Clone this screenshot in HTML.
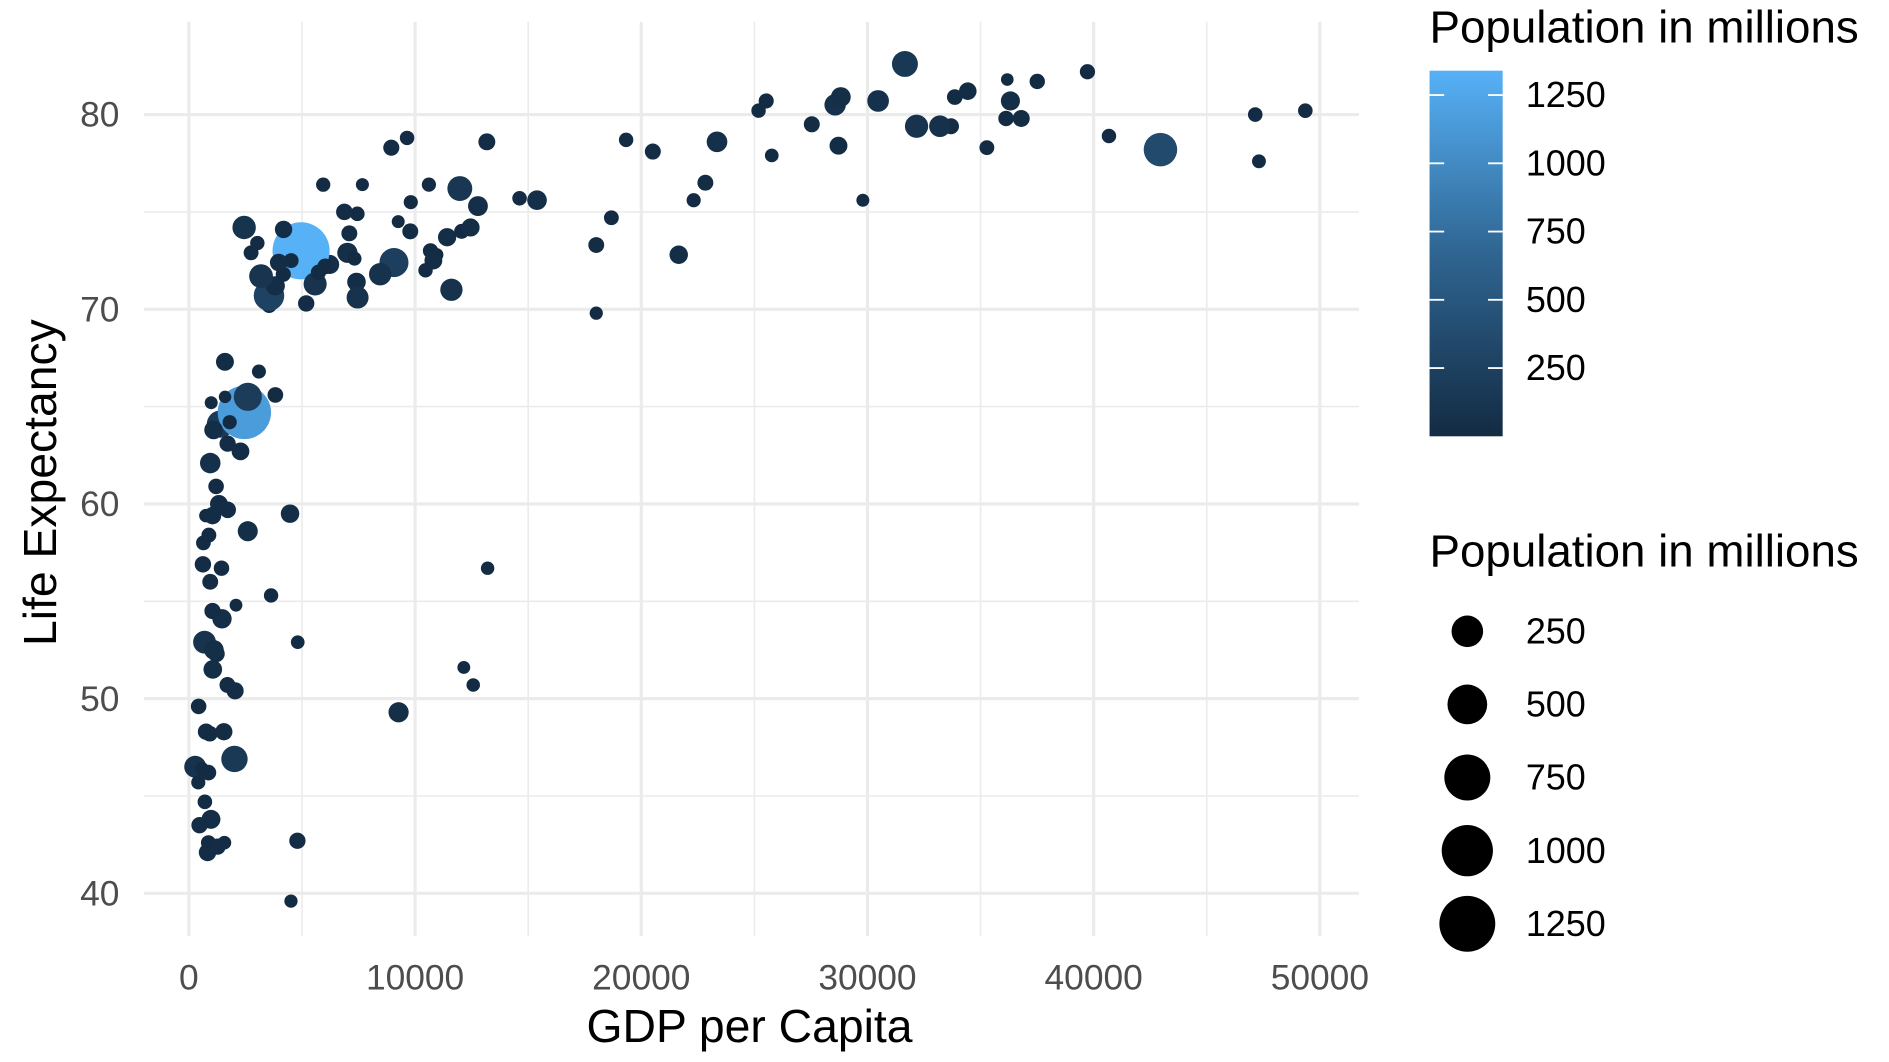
<!DOCTYPE html>
<html><head><meta charset="utf-8"><style>
html,body{margin:0;padding:0;background:#fff;}
svg{display:block;}
text{font-family:"Liberation Sans",sans-serif;}
</style></head><body>
<svg id="chart" width="1889" height="1062" viewBox="0 0 1550 871.4" preserveAspectRatio="none" xmlns="http://www.w3.org/2000/svg">
<defs><linearGradient id="cbar" x1="0" y1="1" x2="0" y2="0">
<stop offset="0" stop-color="#132B43"/><stop offset="0.5" stop-color="#2F6591"/><stop offset="1" stop-color="#56B1F7"/></linearGradient></defs>
<g id="grid"></g>
<g id="points"></g>
<g id="axes"></g>
<text x="615" y="855" font-size="38" text-anchor="middle" fill="#000">GDP per Capita</text>
<text transform="translate(46,396) rotate(-90)" font-size="38" text-anchor="middle" fill="#000">Life Expectancy</text>
<g>
<text x="1173" y="35" font-size="37.5">Population in millions</text>
<rect x="1173" y="58" width="60" height="300" fill="url(#cbar)"/>
<g id="cticks"></g>
</g>
<g>
<text x="1173" y="465" font-size="37.5">Population in millions</text>
<g id="sizeleg"></g>
</g>
</svg>
<script>
const countries=["Afghanistan","Albania","Algeria","Angola","Argentina","Australia","Austria","Bahrain","Bangladesh","Belgium","Benin","Bolivia","Bosnia","Botswana","Brazil","Bulgaria","Burkina Faso","Burundi","Cambodia","Cameroon","Canada","CAR","Chad","Chile","China","Colombia","Comoros","Congo DR","Congo Rep","Costa Rica","Cote d'Ivoire","Croatia","Cuba","Czech Rep","Denmark","Djibouti","Dominican Rep","Ecuador","Egypt","El Salvador","Eq Guinea","Eritrea","Ethiopia","Finland","France","Gabon","Gambia","Germany","Ghana","Greece","Guatemala","Guinea","Guinea-Bissau","Haiti","Honduras","Hong Kong","Hungary","Iceland","India","Indonesia","Iran","Iraq","Ireland","Israel","Italy","Jamaica","Japan","Jordan","Kenya","Korea DR","Korea Rep","Kuwait","Lebanon","Lesotho","Liberia","Libya","Madagascar","Malawi","Malaysia","Mali","Mauritania","Mauritius","Mexico","Mongolia","Montenegro","Morocco","Mozambique","Myanmar","Namibia","Nepal","Netherlands","New Zealand","Nicaragua","Niger","Nigeria","Norway","Oman","Pakistan","Panama","Paraguay","Peru","Philippines","Poland","Portugal","Puerto Rico","Reunion","Romania","Rwanda","Sao Tome","Saudi Arabia","Senegal","Serbia","Sierra Leone","Singapore","Slovakia","Slovenia","Somalia","South Africa","Spain","Sri Lanka","Sudan","Swaziland","Sweden","Switzerland","Syria","Taiwan","Tanzania","Thailand","Togo","Trinidad","Tunisia","Turkey","Uganda","UK","US","Uruguay","Venezuela","Vietnam","West Bank","Yemen","Zambia","Zimbabwe"];
const gdp=[975,5937,6223,4797,12779,34435,36126,29796,1391,33693,1441,3822,7446,12570,9066,10681,1217,430,1714,2042,36319,706,1704,13172,4959,7007,986,278,3633,9645,1545,14619,8948,22833,35278,2082,6025,6873,5581,5728,12154,641,691,33207,30470,13206,753,32170,1328,27538,5186,943,579,1202,3548,39725,18009,36181,2452,3541,11606,4471,40676,25523,28570,7321,31656,4519,1463,1593,23348,47307,10461,1569,415,12057,1045,759,12452,1043,1803,10957,11978,3096,9254,3820,824,944,4811,1091,36798,25185,2749,619,2014,49357,22316,2606,9809,4173,7409,3190,15390,20510,19329,7670,10808,863,1598,21655,1712,9787,863,47143,18678,25768,926,9270,28821,3970,2602,4513,33860,37506,4185,28718,1107,7458,883,18009,7093,8458,1056,33203,42952,10611,11416,2442,3026,2281,1271,470];
const lifeExp=[43.8,76.4,72.3,42.7,75.3,81.2,79.8,75.6,64.1,79.4,56.7,65.6,74.9,50.7,72.4,73.0,52.3,49.6,59.7,50.4,80.7,44.7,50.7,78.6,73.0,72.9,65.2,46.5,55.3,78.8,48.3,75.7,78.3,76.5,78.3,54.8,72.2,75.0,71.3,71.9,51.6,58.0,52.9,79.3,80.7,56.7,59.4,79.4,60.0,79.5,70.3,56.0,46.4,60.9,70.2,82.2,73.3,81.8,64.7,70.7,71.0,59.5,78.9,80.7,80.5,72.6,82.6,72.5,54.1,67.3,78.6,77.6,72.0,42.6,45.7,74.0,59.4,48.3,74.2,54.5,64.2,72.8,76.2,66.8,74.5,71.2,42.1,62.1,52.9,63.8,79.8,80.2,72.9,56.9,46.9,80.2,75.6,65.5,75.5,71.8,71.4,71.7,75.6,78.1,78.7,76.4,72.5,46.2,65.5,72.8,63.1,74.0,42.6,80.0,74.7,77.9,48.2,49.3,80.9,72.4,58.6,39.6,80.9,81.7,74.1,78.4,52.5,70.6,58.4,69.8,73.9,71.8,51.5,79.4,78.2,76.4,73.7,74.2,73.4,62.7,42.4,43.5];
const popMillions=[31.9,3.6,33.3,12.4,40.3,20.4,8.2,0.7,150.4,10.4,8.1,9.1,4.6,1.6,190,7.3,14.3,8.4,14.1,17.7,33.4,4.4,10.2,16.3,1318.7,44.2,0.7,64.6,3.8,4.1,18.0,4.5,11.4,10.2,5.5,0.5,9.3,13.8,80.3,6.9,0.55,4.9,76.5,5.2,61.1,1.45,1.7,82.4,22.9,10.7,12.6,9.9,1.5,8.5,7.5,7.0,10.0,0.3,1110,223.5,69.5,27.5,4.1,6.4,58.1,2.8,127.5,6.05,35.6,23.3,49.0,2.5,3.9,2.0,3.2,6.0,19.2,13.3,24.8,12.0,3.3,1.25,108.7,2.9,0.68,33.8,20.0,47.8,2.05,28.9,16.6,4.1,5.7,12.9,135,4.6,3.2,169,3.2,6.7,28.7,91,38.5,10.6,3.9,0.8,22.3,8.9,0.2,27.6,12.3,10.2,6.1,4.55,5.4,2.0,9.1,44,40.4,20.4,42.3,1.1,9.0,7.55,19.3,23.2,38.1,65.1,5.7,1.06,10.3,71.2,29.2,60.8,301,3.4,26.1,85.3,4.0,22.2,11.7,12.3];
const xTicks=[0,10000,20000,30000,40000,50000];
const yTicks=[40,50,60,70,80];
const colorTicks=[250,500,750,1000,1250];
const sizeTicks=[250,500,750,1000,1250];

const NS="http://www.w3.org/2000/svg";
const X=v=>155+v*(1083-155)/50000;
const Y=v=>94+(80-v)*(733-94)/40;
const R=p=>4.9+0.51*Math.sqrt(p);
function cbarY(p){return 358-p*(358-302)/250;}
function col(p){const t=Math.min(1,p/1318.7);const a=[19,43,67],b=[86,177,247];return `rgb(${a.map((v,i)=>Math.round(v+(b[i]-v)*t)).join(',')})`;}
function mk(tag,attrs,parent){const e=document.createElementNS(NS,tag);for(const k in attrs)e.setAttribute(k,attrs[k]);parent.appendChild(e);return e;}
const grid=document.getElementById('grid'),axes=document.getElementById('axes'),pts=document.getElementById('points');
const L=118,Rt=1115,T=18,B=768;
for(let v=0;v<=50000;v+=5000){const l=mk('line',{x1:X(v),x2:X(v),y1:T,y2:B,stroke:'#ebebeb','stroke-width':v%10000?1.3:2.6},grid);

}
for(let v=40;v<=85;v+=5){if(Y(v)<T)continue;const l=mk('line',{x1:L,x2:Rt,y1:Y(v),y2:Y(v),stroke:'#ebebeb','stroke-width':v%10?1.3:2.6},grid);

}
xTicks.forEach(v=>{const t=mk('text',{x:X(v),y:812,'font-size':29,'text-anchor':'middle',fill:'#4d4d4d'},axes);t.textContent=v;

});
yTicks.forEach(v=>{const t=mk('text',{x:98,y:Y(v)+10,'font-size':29,'text-anchor':'end',fill:'#4d4d4d'},axes);t.textContent=v;

});
countries.forEach((c,i)=>{const p=mk('circle',{cx:X(gdp[i]),cy:Y(lifeExp[i]),r:R(popMillions[i]),fill:col(popMillions[i])},pts);

});
const ct=document.getElementById('cticks');
colorTicks.forEach(v=>{const y=cbarY(v);
mk('line',{x1:1173,x2:1185,y1:y,y2:y,stroke:'#fff','stroke-width':1.5},ct);
mk('line',{x1:1221,x2:1233,y1:y,y2:y,stroke:'#fff','stroke-width':1.5},ct);
const t=mk('text',{x:1252,y:y+10,'font-size':29.5,fill:'#000'},ct);t.textContent=v;

});
const sl=document.getElementById('sizeleg');
sizeTicks.forEach((v,i)=>{const y=518+i*60;
const c=mk('circle',{cx:1204,cy:y,r:R(v),fill:'#000'},sl);


const t=mk('text',{x:1252,y:y+10,'font-size':29.5,fill:'#000'},sl);t.textContent=v;

});
</script>
</body></html>
